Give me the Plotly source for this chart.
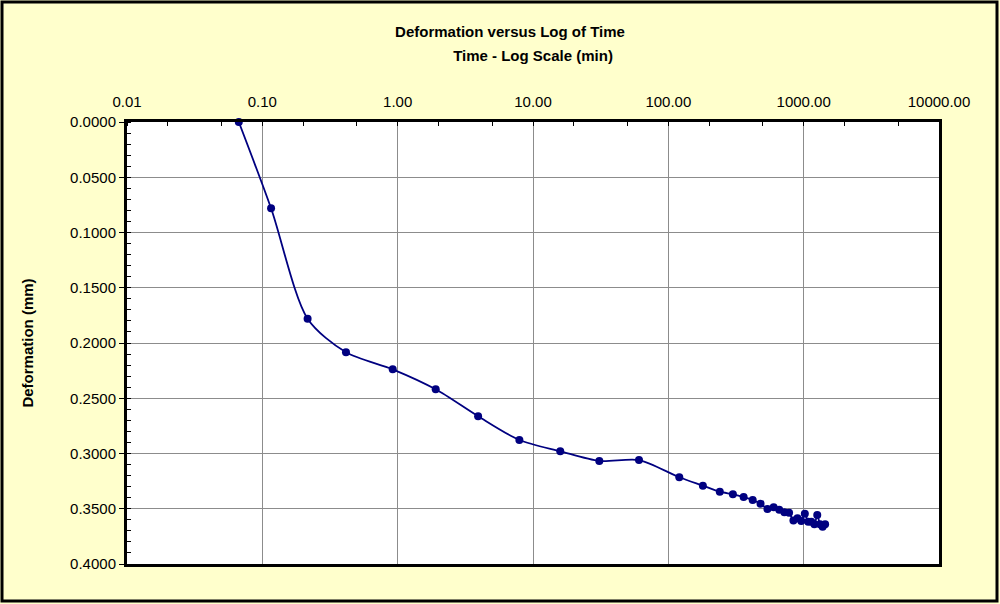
import plotly.graph_objects as go

time_min = [0.067, 0.116, 0.216, 0.415, 0.919, 1.91, 3.93, 7.93, 15.9, 30.9, 60.7, 120.5,
            180, 240, 300, 360, 420, 480, 540, 600, 660, 720, 780, 840, 900, 960,
            1020, 1080, 1140, 1200, 1260, 1320, 1380, 1440]
deformation_mm = [0.0000, 0.0781, 0.1780, 0.2084, 0.2238, 0.2419, 0.2663, 0.2878, 0.2980, 0.3068, 0.3059, 0.3215,
                  0.3291, 0.3346, 0.3369, 0.3394, 0.3421, 0.3454, 0.3502, 0.3487, 0.3510, 0.3532, 0.3536, 0.3606,
                  0.3586, 0.3611, 0.3545, 0.3617, 0.3617, 0.3641, 0.3557, 0.3641, 0.3662, 0.3641]

x_tickvals = [0.01, 0.1, 1, 10, 100, 1000, 10000]
x_ticktext = ["0.01", "0.10", "1.00", "10.00", "100.00", "1000.00", "10000.00"]

FONT = "Liberation Sans, Arial, sans-serif"
FS = 15
L, R, T, B = 127, 61, 122, 40
PW, PH = 1000 - L - R, 604 - T - B

def px_x(p):
    return (p - L) / PW

def px_y(p):
    return (604 - B - p) / PH

fig = go.Figure()
fig.add_trace(go.Scatter(
    x=time_min, y=deformation_mm, mode="lines+markers",
    line=dict(color="#000080", width=1.8, shape="spline", smoothing=0.8),
    marker=dict(color="#000080", size=8),
    cliponaxis=False, showlegend=False,
))

fig.update_layout(
    width=1000, height=604,
    margin=dict(l=L, r=R, t=T, b=B),
    paper_bgcolor="#FFFFCC",
    plot_bgcolor="rgba(0,0,0,0)",
    font=dict(family=FONT, size=FS, color="black"),
    title=dict(text="<b>Deformation versus Log of Time</b>", x=px_x(510), xref="paper",
               y=1 - 32 / 604, yanchor="middle", xanchor="center",
               font=dict(family=FONT, size=FS, color="black")),
    xaxis=dict(
        type="log", range=[-2, 4], side="top",
        tickvals=x_tickvals, ticktext=x_ticktext,
        showgrid=True, gridcolor="#8c8c8c", gridwidth=1,
        showline=True, linecolor="black", linewidth=3, mirror=True,
        ticks="", zeroline=False, ticklabelstandoff=6,
        minor=dict(ticks="inside", ticklen=4, tickcolor="black", tickwidth=1, showgrid=False),
        title=dict(text="<b>Time - Log Scale (min)</b>", standoff=28,
                   font=dict(family=FONT, size=FS, color="black")),
        tickfont=dict(family=FONT, size=FS, color="black"),
    ),
    yaxis=dict(
        range=[0.4, 0], tickmode="linear", tick0=0, dtick=0.05, tickformat=".4f",
        showgrid=True, gridcolor="#8c8c8c", gridwidth=1,
        showline=True, linecolor="black", linewidth=3, mirror=True,
        ticks="outside", ticklen=5, tickcolor="black", tickwidth=1, zeroline=False,
        minor=dict(ticks="inside", ticklen=4, dtick=0.01, tickcolor="black", tickwidth=1, showgrid=False),
        title=dict(text="<b>Deformation (mm)</b>", standoff=33,
                   font=dict(family=FONT, size=FS, color="black")),
        tickfont=dict(family=FONT, size=FS, color="black"),
    ),
    shapes=[
        dict(type="rect", xref="paper", yref="paper", x0=px_x(L + 3), x1=px_x(L + PW + 3),
             y0=px_y(564 + 3), y1=px_y(T + 3), fillcolor="#7f7f7f", line=dict(width=0), layer="below"),
        dict(type="rect", xref="paper", yref="paper", x0=0, x1=1, y0=0, y1=1,
             fillcolor="white", line=dict(width=0), layer="below"),
        dict(type="rect", xref="paper", yref="paper", x0=px_x(2), x1=px_x(997),
             y0=px_y(601), y1=px_y(2), fillcolor="rgba(0,0,0,0)",
             line=dict(color="black", width=3), layer="above"),
    ],
)

fig.write_html("out.html", config={"displayModeBar": False},
               post_script="document.body.style.margin='0';")
